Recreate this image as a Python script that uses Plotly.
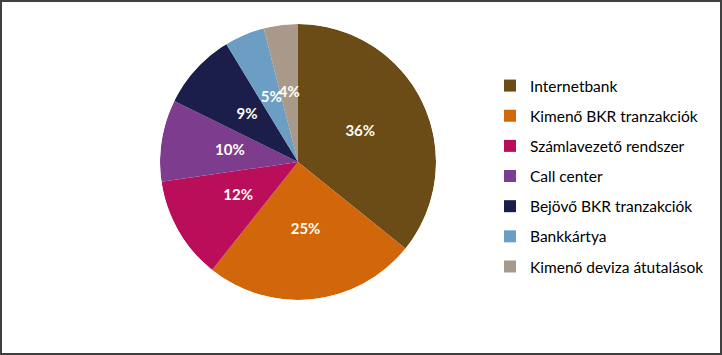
import plotly.graph_objects as go

labels = ["Internetbank", "Kimenő BKR tranzakciók", "Számlavezető rendszer",
          "Call center", "Bejövő BKR tranzakciók", "Bankkártya",
          "Kimenő deviza átutalások"]
values = [35.8, 24.9, 12.0, 9.6, 9.0, 4.7, 4.0]
colors = ["#6B4C17", "#D2660A", "#BA0E5A", "#7D3C8E", "#1B1E4B", "#6C9DC2", "#A8998A"]

FONT = "Lato"
DOMAIN = dict(x=[160/722, 436/722], y=[55/355, 331/355])

total = sum(values)
pct_text = [f"{round(100 * v / total):.0f}%" for v in values]
widths = [360.0 * v / total for v in values]
mid_theta = []
acc = 0.0
for w in widths:
    mid_theta.append(acc + w / 2)
    acc += w

fig = go.Figure()
# pie slices as full-radius polar wedges
fig.add_trace(go.Barpolar(
    r=[1] * len(values), theta=mid_theta, width=widths,
    marker=dict(color=colors, line=dict(width=0)),
    customdata=labels, hovertemplate="%{customdata}<extra></extra>",
    showlegend=False,
))

# percentage labels at half radius
fig.add_trace(go.Scatterpolar(
    r=[0.5] * len(values), theta=mid_theta, mode="text", text=pct_text,
    textfont=dict(family=FONT, size=15, color="#FFFFF4", weight="bold"),
    textposition="middle center", showlegend=False, hoverinfo="skip",
))

# legend entries
for lab, col in zip(labels, colors):
    fig.add_trace(go.Scatterpolar(
        r=[None], theta=[None], mode="markers", name=lab, legendgroup=lab,
        marker=dict(symbol="square", size=9, color=col),
        showlegend=True, hoverinfo="skip",
    ))

fig.update_layout(
    width=722, height=355,
    margin=dict(l=0, r=0, t=0, b=0),
    paper_bgcolor="white",
    polar=dict(domain=DOMAIN, bgcolor="rgba(0,0,0,0)", bargap=0,
               radialaxis=dict(visible=False, range=[0, 1]),
               angularaxis=dict(visible=False, rotation=90, direction="clockwise")),
    legend=dict(x=490/722, y=1 - 69/355, xanchor="left", yanchor="top",
                font=dict(family=FONT, size=15.5, color="#000000"),
                tracegroupgap=7, itemsizing="constant", bgcolor="rgba(0,0,0,0)"),
    shapes=[dict(type="rect", xref="paper", yref="paper", x0=0, y0=0, x1=1, y1=1,
                 line=dict(color="#404040", width=4))],
)

fig.write_html("out.html")
